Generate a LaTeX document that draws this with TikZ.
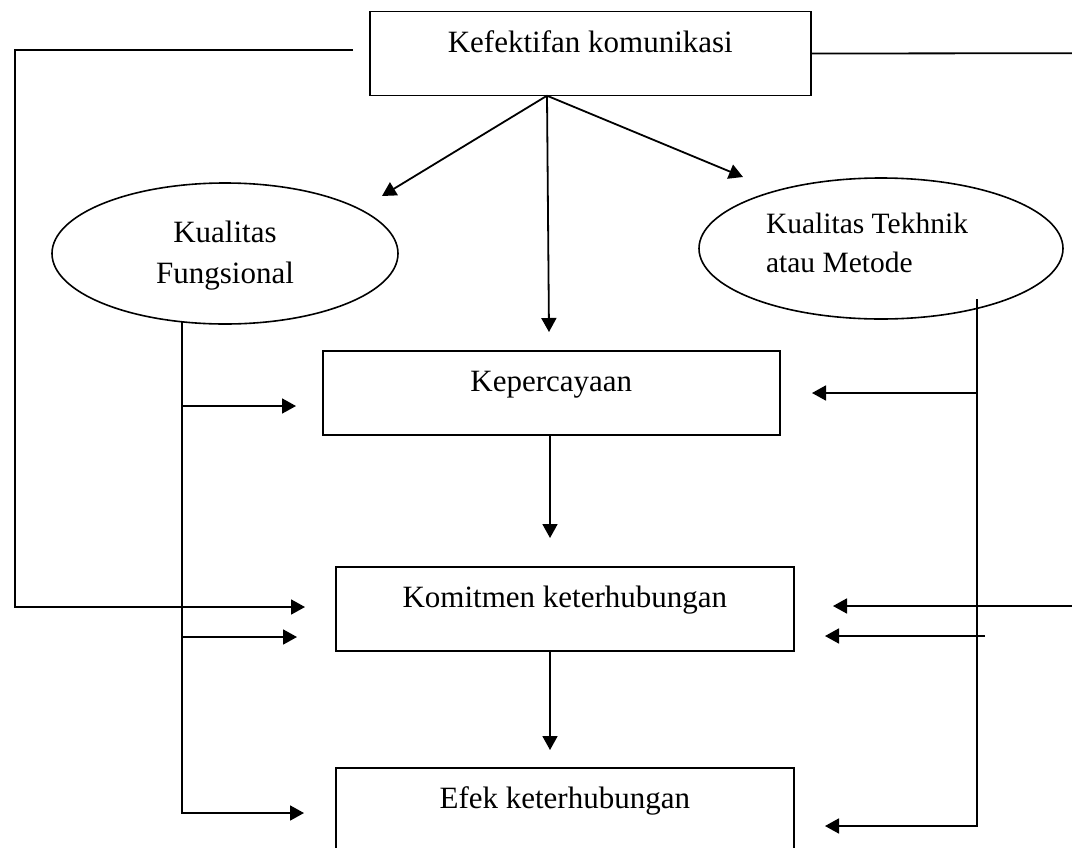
\documentclass[tikz,border=0pt]{standalone}
\usepackage{fontspec}
\setmainfont{Liberation Serif}
\usetikzlibrary{shapes.geometric,arrows.meta,calc}
\begin{document}
\begin{tikzpicture}[x=1pt,y=-1pt,
  every node/.style={font=\fontsize{31pt}{41pt}\selectfont},
  boxn/.style={draw, line width=1.6pt, rectangle, anchor=north west, inner sep=0pt, text height=41pt, text depth=43pt},
  ell/.style={draw, line width=1.6pt, ellipse, inner sep=0pt, minimum width=346pt, minimum height=141pt},
  conn/.style={line width=1.6pt},
  arr/.style={line width=1.8pt, -{Triangle[length=14pt,width=15pt]}}
]
\useasboundingbox (0,0) rectangle (1072,847);
\clip (0,0) rectangle (1072,847);

% nodes
\node[boxn, minimum width=441pt] (top) at (369,10.7) {Kefektifan komunikasi};
\node[boxn, minimum width=457pt] (kep) at (322,350) {Kepercayaan};
\node[boxn, minimum width=458pt] (kom) at (335,566) {Komitmen keterhubungan};
\node[boxn, minimum width=458pt] (efek) at (335,767) {Efek keterhubungan};
\node[ell, label={[align=center, yshift=-2pt]center:Kualitas\\Fungsional}] (kf) at (225,253.5) {};
\node[ell, minimum width=364pt,
  label={[align=left, xshift=-14pt, yshift=6pt, font=\fontsize{29.5pt}{39pt}\selectfont]center:Kualitas Tekhnik\\atau Metode}] (kt) at (881,248.5) {};

% coordinates
\coordinate (o) at (547,95.7);
\coordinate (kfTip) at (382,196);
\coordinate (ktTip) at (743,177);
\coordinate (kepTip) at (549,332);
\coordinate (komTip) at (550,538);
\coordinate (efTip) at (550,750);
\coordinate (L0) at (353,50);
\coordinate (Lc) at (15,50);
\coordinate (Rc) at (1090,53.2);
\coordinate (komLtipA) at (305,607);
\coordinate (komRtipA) at (833,606);
\coordinate (lv0) at (182,322);
\coordinate (kepLtip) at (296,406);
\coordinate (komLtipB) at (297,637);
\coordinate (efLtip) at (304,813);
\coordinate (rv0) at (977,299);
\coordinate (kepRtip) at (812,393);
\coordinate (komRtipB) at (825,636);
\coordinate (efRtip) at (825,826);

% connectors from top
\draw[arr] (o) -- (kfTip);
\draw[arr] (o) -- (ktTip);
\draw[arr] (o) -- (kepTip);
\draw[arr] (kep.south -| komTip) -- (komTip);
\draw[arr] (kom.south -| efTip) -- (efTip);

% outer loops
\draw[arr] (L0) -- (Lc) |- (komLtipA);
\draw[arr] (top.east) -- (Rc) |- (komRtipA);

% left inner
\draw[arr] (lv0) |- (efLtip);
\draw[arr] (lv0 |- kepLtip) -- (kepLtip);
\draw[arr] (lv0 |- komLtipB) -- (komLtipB);

% right inner
\draw[arr] (rv0) |- (efRtip);
\draw[arr] (rv0 |- kepRtip) -- (kepRtip);
\draw[arr] ($(rv0 |- komRtipB)+(8,0)$) -- (komRtipB);
\end{tikzpicture}
\end{document}
